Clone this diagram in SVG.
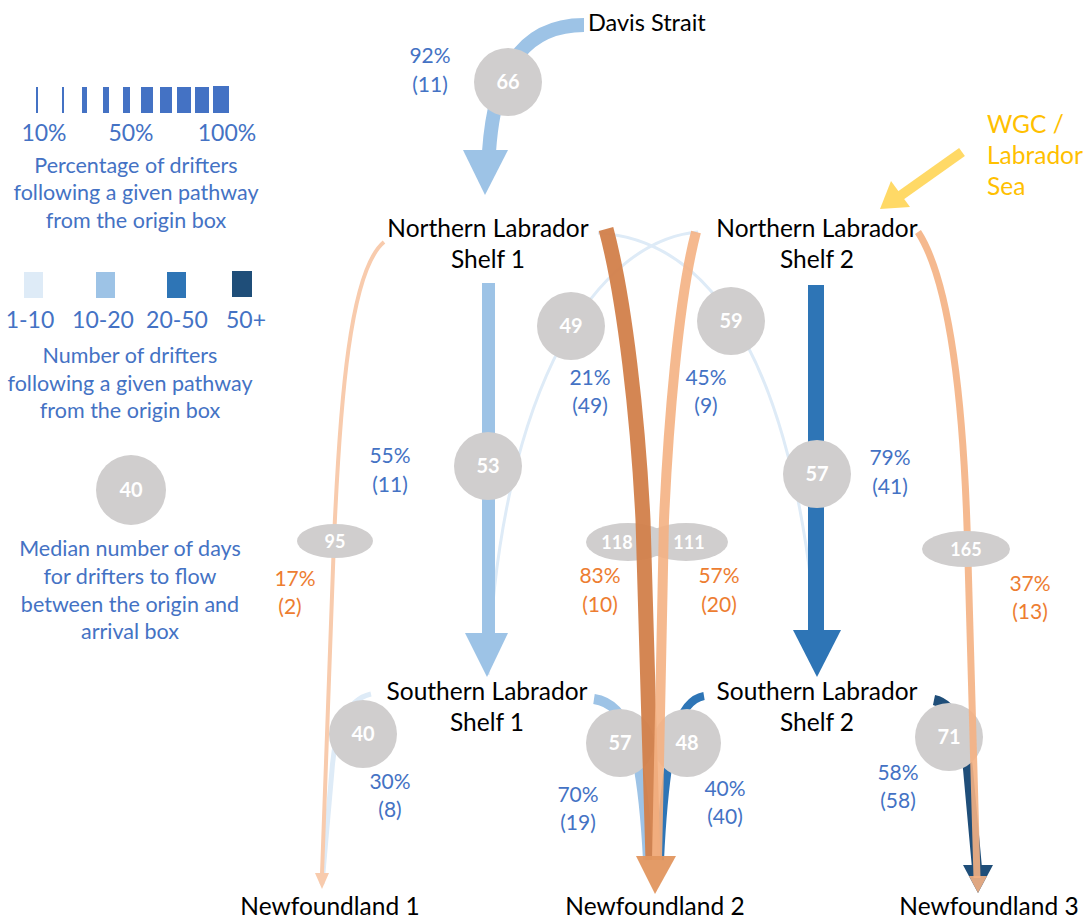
<svg xmlns="http://www.w3.org/2000/svg" width="1086" height="920" viewBox="0 0 1086 920">
<style>
text{font-family:Lato,"Open Sans","Liberation Sans",sans-serif}
.lbl{font-size:24.5px;fill:#000;text-anchor:middle}
.leg{font-size:21.5px;fill:#4472C4;text-anchor:middle}
.legb{font-size:23px;fill:#4472C4;text-anchor:middle}
.pb{font-size:21px;fill:#4472C4;text-anchor:middle}
.po{font-size:21px;fill:#ED7D31;text-anchor:middle}
.days{fill:#D0CECE}
.dt{font-size:20px;font-weight:bold;fill:#fff;text-anchor:middle}
.dte{font-size:18px;font-weight:bold;fill:#fff;text-anchor:middle}
.wgc{font-size:24.5px;fill:#FFC000}
</style>
<rect width="1086" height="920" fill="#fff"/>
<g id="legend">
<g fill="#4472C4">
<rect x="36" y="87" width="2" height="26"/>
<rect x="62" y="87" width="2" height="26"/>
<rect x="82" y="87" width="5" height="26"/>
<rect x="103" y="87" width="6" height="26"/>
<rect x="123" y="87" width="7" height="26"/>
<rect x="141" y="87" width="12" height="26"/>
<rect x="160" y="87" width="12" height="26"/>
<rect x="177" y="87" width="14" height="26"/>
<rect x="195" y="87" width="14" height="26"/>
<rect x="213" y="86" width="16" height="27"/>
</g>
<text class="legb" x="44" y="141">10%</text>
<text class="legb" x="131" y="141">50%</text>
<text class="legb" x="227" y="141">100%</text>
<text class="leg" x="136" y="173">Percentage of drifters</text>
<text class="leg" x="136" y="200">following a given pathway</text>
<text class="leg" x="136" y="228">from the origin box</text>
<rect x="24" y="272" width="19" height="26" fill="#DEEBF7"/>
<rect x="96" y="272" width="19" height="26" fill="#9DC3E6"/>
<rect x="167" y="272" width="19" height="26" fill="#2E75B6"/>
<rect x="232" y="271" width="20" height="26" fill="#1F4E79"/>
<text class="legb" x="30" y="328">1-10</text>
<text class="legb" x="103" y="328">10-20</text>
<text class="legb" x="177" y="328">20-50</text>
<text class="legb" x="246" y="328">50+</text>
<text class="leg" x="130" y="363">Number of drifters</text>
<text class="leg" x="130" y="391">following a given pathway</text>
<text class="leg" x="130" y="418">from the origin box</text>
<circle class="days" cx="131" cy="490" r="35"/>
<text class="dt" x="131" y="497">40</text>
<text class="leg" x="130" y="556">Median number of days</text>
<text class="leg" x="130" y="584">for drifters to flow</text>
<text class="leg" x="130" y="612">between the origin and</text>
<text class="leg" x="130" y="639">arrival box</text>
</g>
<g id="connectors" fill="none">
<path d="M598 233 C720 240 800 380 819 668" stroke="#DEEBF7" stroke-width="3"/>
<path d="M698 232 C600 240 500 380 488 675" stroke="#DEEBF7" stroke-width="3"/>
<path d="M584 25 C530 25 495 60 489 152" stroke="#9DC3E6" stroke-width="14"/>
<polygon points="463,150 508,150 485,195" fill="#9DC3E6"/>
<rect x="482" y="283" width="13" height="352" fill="#9DC3E6"/>
<polygon points="465,633 508,633 487,677" fill="#9DC3E6"/>
<rect x="808" y="285" width="16" height="346" fill="#2E75B6"/>
<polygon points="793,630 841,630 817,677" fill="#2E75B6"/>
<path d="M371 694 C345 700 335 730 332 770 L322 884" stroke="#DEEBF7" stroke-width="5"/>
<path d="M594 699 C628 704 642 745 648 860" stroke="#9DC3E6" stroke-width="10"/>
<path d="M704 696 C680 700 666 735 660 860" stroke="#2E75B6" stroke-width="8"/>
<path d="M934 700 C958 705 966 740 969 780 L977 868" stroke="#1F4E79" stroke-width="10"/>
<polygon points="963,865 993,865 978,893" fill="#1F4E79"/>
</g>
<g id="days">
<circle class="days" cx="508" cy="82" r="34"/><text class="dt" x="508" y="89">66</text>
<circle class="days" cx="571" cy="326" r="34"/><text class="dt" x="571" y="333">49</text>
<circle class="days" cx="731" cy="321" r="34"/><text class="dt" x="731" y="328">59</text>
<circle class="days" cx="488" cy="466" r="34"/><text class="dt" x="488" y="473">53</text>
<circle class="days" cx="817" cy="474" r="34"/><text class="dt" x="817" y="481">57</text>
<circle class="days" cx="363" cy="734" r="34"/><text class="dt" x="363" y="741">40</text>
<circle class="days" cx="620" cy="743" r="34"/><text class="dt" x="620" y="750">57</text>
<circle class="days" cx="687" cy="743" r="34"/><text class="dt" x="687" y="750">48</text>
<circle class="days" cx="949" cy="737" r="34"/><text class="dt" x="949" y="744">71</text>
<ellipse class="days" cx="628" cy="542" rx="42" ry="19"/>
<ellipse class="days" cx="686" cy="542" rx="42" ry="19"/>
</g>
<g id="orange-connectors" fill="none">
<path d="M384 242 C350 270 340 400 334 540 L322 874" stroke="#F8CBAD" stroke-width="4"/>
<polygon points="315,873 329,873 322,889" fill="#F8CBAD"/>
<path d="M606 229 C625 300 638 420 643 520 L653 860" stroke="#D2804A" stroke-width="15" opacity="0.95"/>
<path d="M696 232 C678 300 668 430 664 520 L657 860" stroke="#F4B183" stroke-width="10" opacity="0.9"/>
<polygon points="636,856 676,856 655,894" fill="#E2965F" opacity="0.95"/>
<path d="M918 232 Q962 300 968 560 L977 878" stroke="#F4B183" stroke-width="7" opacity="0.9"/>
<polygon points="969,876 987,876 978,893" fill="#F4B183" opacity="0.9"/>
</g>
<g id="days-top">
<ellipse class="days" cx="335" cy="541" rx="38" ry="17"/><text class="dte" x="335" y="548">95</text>
<ellipse class="days" cx="966" cy="549" rx="44" ry="18"/><text class="dte" x="966" y="556">165</text>
<text class="dte" x="617" y="549">118</text>
<text class="dte" x="689" y="549">111</text>
</g>
<g id="wgc">
<path d="M962 152 L900 196" stroke="#FFD966" stroke-width="10" fill="none"/>
<polygon points="880,209 891,181 910,207" fill="#FFD966"/>
<text class="wgc" x="987" y="133">WGC /</text>
<text class="wgc" x="987" y="164">Labrador</text>
<text class="wgc" x="987" y="195">Sea</text>
</g>
<g id="nodes">
<g id="davis"><text class="lbl" x="588" y="31" style="text-anchor:start;font-size:23.5px">Davis Strait</text></g>
<g id="nls1"><text class="lbl" x="488" y="237">Northern Labrador</text><text class="lbl" x="488" y="268">Shelf 1</text></g>
<g id="nls2"><text class="lbl" x="817" y="237">Northern Labrador</text><text class="lbl" x="817" y="268">Shelf 2</text></g>
<g id="sls1"><text class="lbl" x="487" y="700">Southern Labrador</text><text class="lbl" x="487" y="731">Shelf 1</text></g>
<g id="sls2"><text class="lbl" x="817" y="700">Southern Labrador</text><text class="lbl" x="817" y="731">Shelf 2</text></g>
<g id="nf1"><text class="lbl" x="330" y="915">Newfoundland 1</text></g>
<g id="nf2"><text class="lbl" x="655" y="915">Newfoundland 2</text></g>
<g id="nf3"><text class="lbl" x="989" y="915">Newfoundland 3</text></g>
</g>
<g id="pct">
<text class="pb" x="430" y="63">92%</text><text class="pb" x="430" y="92">(11)</text>
<text class="pb" x="390" y="463">55%</text><text class="pb" x="390" y="492">(11)</text>
<text class="pb" x="590" y="385">21%</text><text class="pb" x="590" y="413">(49)</text>
<text class="pb" x="706" y="385">45%</text><text class="pb" x="706" y="413">(9)</text>
<text class="pb" x="890" y="465">79%</text><text class="pb" x="890" y="494">(41)</text>
<text class="po" x="295" y="586">17%</text><text class="po" x="290" y="614">(2)</text>
<text class="po" x="600" y="583">83%</text><text class="po" x="600" y="612">(10)</text>
<text class="po" x="719" y="583">57%</text><text class="po" x="719" y="612">(20)</text>
<text class="po" x="1030" y="591">37%</text><text class="po" x="1030" y="619">(13)</text>
<text class="pb" x="390" y="789">30%</text><text class="pb" x="390" y="817">(8)</text>
<text class="pb" x="578" y="802">70%</text><text class="pb" x="578" y="830">(19)</text>
<text class="pb" x="725" y="796">40%</text><text class="pb" x="725" y="824">(40)</text>
<text class="pb" x="898" y="780">58%</text><text class="pb" x="898" y="808">(58)</text>
</g>
</svg>
